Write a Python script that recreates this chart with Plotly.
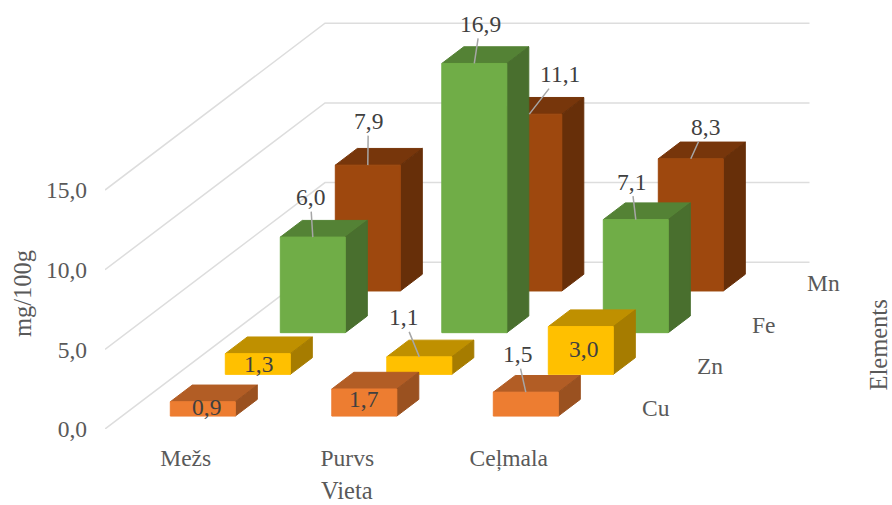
import plotly.graph_objects as go

categories = ["Mežs", "Purvs", "Ceļmala"]
elements = ["Cu", "Zn", "Fe", "Mn"]
cu_values = [0.9, 1.7, 1.5]
zn_values = [1.3, 1.1, 3.0]
fe_values = [6.0, 16.9, 7.1]
mn_values = [7.9, 11.1, 8.3]
value_ticks = [0, 5, 10, 15]

element_values = [cu_values, zn_values, fe_values, mn_values]

# front, top and side shades per element
shades = [
    ("#ED7D31", "#B25D25", "#9A5120"),
    ("#FFC000", "#BF9000", "#A67C00"),
    ("#70AD47", "#548235", "#496F2E"),
    ("#9E480E", "#77360B", "#672F09"),
]

# pixel offset of each value label from the front-top centre of its bar
label_offsets = [
    [(3.5, 5), (0, 10), (-8.5, -38)],
    [(0.5, 10), (-16, -39.5), (2.5, 22)],
    [(-2.5, -40), (6, -39.5), (-4.5, -38)],
    [(0.5, -44), (31, -40), (14.5, -32)],
]

W, H = 892, 505
LEFT, BOTTOM = 105, 76
PX_PER_CATEGORY = 161.5
PX_PER_UNIT = 15.93
plot_w = W - LEFT
plot_h = H - BOTTOM

# oblique projection: one depth step moves a point right and up
DEPTH_X = 55 / PX_PER_CATEGORY
DEPTH_Y = 41.7 / PX_PER_UNIT
DEPTH_STEPS = len(elements)
BAR_WIDTH = 65 / PX_PER_CATEGORY
BAR_DEPTH = 0.4
ROW_START = 0.31


def project(cat, value, depth):
    return cat + depth * DEPTH_X, value + depth * DEPTH_Y


def polygon(points, color):
    xs, ys = zip(*points)
    return go.Scatter(
        x=list(xs) + [xs[0]], y=list(ys) + [ys[0]], mode="lines", fill="toself",
        fillcolor=color, line=dict(color=color, width=1), hoverinfo="skip",
        showlegend=False, cliponaxis=False,
    )


fig = go.Figure()

# walls: diagonal gridline on the side, horizontal one on the back
x_left = -0.5
x_right = x_left + len(categories)
for tick in value_ticks:
    bx, by = project(x_left, tick, DEPTH_STEPS)
    ex, _ = project(x_right, tick, DEPTH_STEPS)
    fig.add_trace(go.Scatter(
        x=[x_left, bx, ex], y=[tick, by, by], mode="lines",
        line=dict(color="#DDDDDD", width=1.5), hoverinfo="skip",
        showlegend=False, cliponaxis=False,
    ))

# rows from back to front so nearer bars cover farther ones
for row in reversed(range(DEPTH_STEPS)):
    front, top, side = shades[row]
    d0 = ROW_START + row
    d1 = d0 + BAR_DEPTH
    for cat, value in enumerate(element_values[row]):
        x0 = cat - BAR_WIDTH / 2
        x1 = cat + BAR_WIDTH / 2
        fig.add_trace(polygon(
            [project(x0, value, d0), project(x1, value, d0),
             project(x1, value, d1), project(x0, value, d1)], top))
        fig.add_trace(polygon(
            [project(x1, 0, d0), project(x1, value, d0),
             project(x1, value, d1), project(x1, 0, d1)], side))
        fig.add_trace(polygon(
            [project(x0, 0, d0), project(x1, 0, d0),
             project(x1, value, d0), project(x0, value, d0)], front))

annotations = []
serif = "Liberation Serif"

# value labels, with a leader line when they sit away from the bar
for row in range(DEPTH_STEPS):
    for cat, value in enumerate(element_values[row]):
        ax, ay = label_offsets[row][cat]
        x, y = project(cat, value, ROW_START + row)
        text = f"{value:.1f}".replace(".", ",")
        base = dict(x=x, y=y, xref="x", yref="y", text=text,
                    font=dict(family=serif, size=23.5, color="#404040"))
        if ay < -25:
            annotations.append(dict(base, showarrow=True, ax=ax, ay=ay, arrowhead=0,
                                    arrowwidth=1.5, arrowcolor="#A6A6A6", standoff=0))
        else:
            annotations.append(dict(base, showarrow=False, xshift=ax, yshift=-ay))

# element names along the right edge of the floor
for row, name in enumerate(elements):
    x, y = project(x_right, 0, row + 0.5)
    annotations.append(dict(x=x, y=y, xref="x", yref="y", text=name, showarrow=False,
                            xanchor="left", xshift=23,
                            font=dict(family=serif, size=23.5, color="#595959")))


def axis_title(text, px, py, angle=0):
    # axis titles placed by their centre, measured from the page corner
    return dict(x=(px - LEFT) / plot_w, y=(plot_h - py) / plot_h,
                xref="paper", yref="paper", text=text, showarrow=False, textangle=angle,
                xanchor="center", yanchor="middle", borderpad=0,
                font=dict(family=serif, size=24.5, color="#595959"))


annotations.append(axis_title("Vieta", 347, 490.5))
annotations.append(axis_title("mg/100g", 22, 294, -90))
annotations.append(axis_title("Elements", 877.5, 345, -90))

fig.update_layout(
    width=W, height=H, autosize=False,
    margin=dict(l=LEFT, r=0, t=0, b=BOTTOM, pad=0),
    paper_bgcolor="white", plot_bgcolor="white",
    separators=", ",
    annotations=annotations,
    xaxis=dict(
        range=[x_left, x_left + plot_w / PX_PER_CATEGORY],
        tickvals=list(range(len(categories))), ticktext=categories,
        showgrid=False, zeroline=False, showline=False, ticks="",
        ticklabelstandoff=12,
        tickfont=dict(family=serif, size=23.5, color="#595959"),
    ),
    yaxis=dict(
        range=[0, plot_h / PX_PER_UNIT],
        tickvals=value_ticks, tickformat=".1f",
        showgrid=False, zeroline=False, showline=False, ticks="",
        ticklabelstandoff=17,
        tickfont=dict(family=serif, size=23.5, color="#595959"),
    ),
)

fig.write_html("out.html", config={"displayModeBar": False})
